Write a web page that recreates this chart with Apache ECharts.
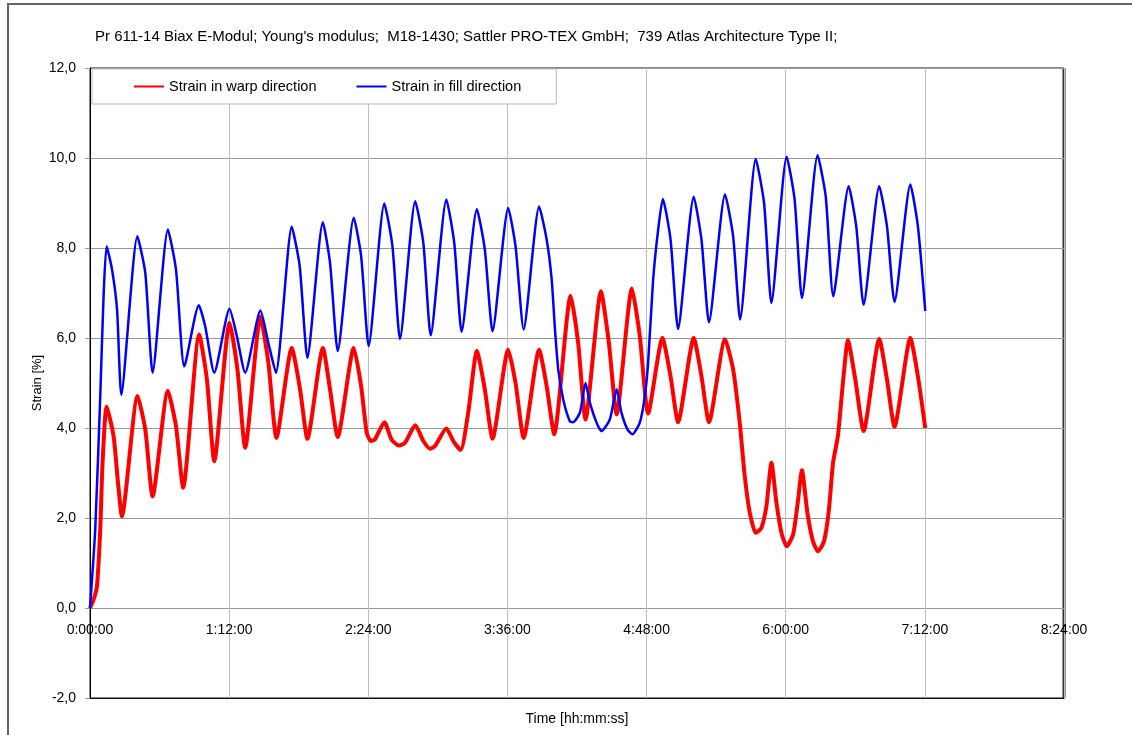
<!DOCTYPE html>
<html>
<head>
<meta charset="utf-8">
<script src="https://cdn.jsdelivr.net/npm/echarts@6/dist/echarts.min.js"></script>
<style>
  html, body { margin: 0; padding: 0; background: #fff; }
  #chart { width: 1132px; height: 735px; }
</style>
</head>
<body>
<div id="chart"></div>
<script>
// time in minutes, strain in %
var warpTime = [0, 1.9, 3.6, 5.3, 6.5, 8.6, 12.2, 14.5, 16.5, 24.6, 28.6, 32.4, 40.3, 44.5, 48.2, 56.5, 60.5, 64.3,
  72.2, 76.3, 80.3, 88.2, 92.3, 96.5, 104.4, 108.7, 112.5, 120.5, 124.2, 128.2, 136.5, 140.3, 143.2, 145.4, 147.5,
  152.3, 156.1, 159.9, 163.0, 168.3, 172.5, 175.9, 178.5, 184.4, 188.0, 191.8, 195.7, 200.2, 204.3, 208.3, 216.4,
  220.2, 224.4, 232.4, 236.3, 240.2, 248.7, 252.6, 256.4, 264.4, 268.5, 272.5, 280.4, 284.5, 288.8, 296.2, 300.4,
  304.3, 312.4, 316.4, 320.3, 328.6, 332.8, 336.2, 338.8, 341.4, 344.5, 347.4, 350.0, 352.6, 355.2, 357.8, 360.5,
  363.8, 366.0, 368.4, 371.2, 374.1, 376.7, 379.8, 382.2, 384.5, 387.0, 389.6, 392.2, 396.0, 400.3, 408.4, 412.4,
  416.3, 424.5, 428.4, 432.2];
var warpStrain = [0, 0.19, 0.48, 1.74, 3.23, 4.48, 3.82, 2.78, 2.04, 4.71, 3.97, 2.48, 4.83, 4.04, 2.67, 6.08, 5.08, 3.26,
  6.34, 5.3, 3.56, 6.48, 5.45, 3.78, 5.78, 4.86, 3.76, 5.78, 4.86, 3.8, 5.78, 4.93, 3.89, 3.71, 3.75,
  4.13, 3.74, 3.61, 3.67, 4.06, 3.71, 3.54, 3.6, 3.99, 3.71, 3.51, 4.34, 5.71, 4.86, 3.76, 5.74,
  5.0, 3.78, 5.74, 4.93, 3.86, 6.94, 5.89, 4.19, 7.04, 5.89, 4.3, 7.1, 6.04, 4.32, 6.0, 5.15,
  4.13, 6.0, 5.15, 4.13, 5.97, 5.3, 4.12, 2.93, 2.12, 1.67, 1.78, 2.26, 3.23, 2.34, 1.67, 1.37,
  1.63, 2.26, 3.06, 2.12, 1.48, 1.26, 1.48, 2.12, 3.23, 3.82, 5.0, 5.95, 5.08, 3.93, 5.98, 5.08,
  4.03, 6.0, 5.15, 4.0];

var fillTime = [0, 2.7, 5.3, 7.0, 8.6, 11.4, 14.0, 16.2, 24.5, 28.6, 32.4, 40.3, 44.5, 48.8, 56.3, 59.6, 64.3,
  72.2, 76.0, 80.3, 88.2, 92.3, 96.2, 104.4, 108.5, 112.5, 120.5, 124.2, 128.2, 136.5, 140.3, 144.2, 152.3, 156.5,
  160.4, 168.3, 172.5, 176.3, 184.4, 188.5, 192.3, 200.2, 204.3, 208.3, 216.4, 220.2, 224.4, 232.4, 236.3, 238.9,
  240.6, 242.3, 244.9, 248.3, 250.0, 253.5, 256.4, 258.7, 262.1, 264.7, 269.0, 272.5, 275.0, 278.1, 280.7, 284.5,
  287.1, 288.8, 291.4, 294.0, 296.4, 300.4, 304.3, 312.4, 316.4, 320.3, 328.6, 332.8, 336.4, 344.5, 348.8, 352.6,
  360.5, 364.6, 368.4, 376.5, 380.7, 384.6, 392.6, 396.5, 400.3, 408.4, 412.4, 416.3, 424.5, 428.4, 432.2];
var fillStrain = [0, 1.74, 4.7, 6.9, 8.04, 7.52, 6.63, 4.74, 8.26, 7.45, 5.23, 8.41, 7.52, 5.37, 6.73, 6.26, 5.23,
  6.65, 6.04, 5.23, 6.61, 5.89, 5.23, 8.47, 7.6, 5.56, 8.57, 7.67, 5.71, 8.67, 7.82, 5.82, 8.99, 8.04,
  5.98, 9.04, 8.11, 6.06, 9.08, 8.11, 6.14, 8.86, 7.97, 6.15, 8.89, 8.04, 6.19, 8.92, 8.19, 7.3,
  6.19, 5.3, 4.63, 4.15, 4.13, 4.34, 5.0, 4.56, 4.12, 3.93, 4.19, 4.86, 4.34, 3.97, 3.86, 4.12,
  4.71, 5.45, 7.3, 8.41, 9.09, 8.19, 6.2, 9.14, 8.19, 6.35, 9.19, 8.26, 6.41, 9.98, 9.0, 6.78,
  10.03, 9.08, 6.89, 10.06, 9.15, 6.93, 9.37, 8.48, 6.74, 9.37, 8.48, 6.8, 9.41, 8.48, 6.6];

var seriesNames = ['Strain in warp direction', 'Strain in fill direction'];
var titleText = "Pr 611-14 Biax E-Modul; Young's modulus;  M18-1430; Sattler PRO-TEX GmbH;  739 Atlas Architecture Type II;";

function pairs(xs, ys) {
  return xs.map(function (x, i) { return [x, ys[i]]; });
}
function hms(min) {
  var h = Math.floor(min / 60);
  var m = Math.round(min - h * 60);
  return h + ':' + (m < 10 ? '0' : '') + m + ':00';
}

var font = '"Liberation Sans", Arial, sans-serif';
var myChart = echarts.init(document.getElementById('chart'));
var option = {
  backgroundColor: '#fff',
  animation: false,
  textStyle: { fontFamily: font },
  title: {
    text: titleText,
    left: 90, top: 24,
    textStyle: { fontSize: 15, fontWeight: 'normal', color: '#000', fontFamily: font }
  },
  graphic: [{
    type: 'rect',
    shape: { x: 8, y: 4, width: 2000, height: 2000 },
    style: { fill: 'none', stroke: '#666', lineWidth: 2 },
    silent: true
  }, {
    type: 'line',
    shape: { x1: 1064, y1: 68, x2: 1064, y2: 698 },
    style: { stroke: '#333', lineWidth: 3 },
    silent: true
  }],
  legend: {
    left: 92, top: 69,
    orient: 'horizontal',
    padding: [10, 35, 10, 41],
    itemGap: 39,
    itemWidth: 30, itemHeight: 12,
    itemStyle: { opacity: 0 },
    borderColor: '#bbb', borderWidth: 1,
    backgroundColor: '#fff',
    textStyle: { fontSize: 14.5, color: '#000', fontFamily: font },
    data: seriesNames
  },
  grid: {
    left: 90, top: 68, right: 68, bottom: 37,
    show: true, borderColor: '#111', borderWidth: 1,
    containLabel: false,
    outerBoundsMode: 'none'
  },
  xAxis: {
    type: 'value',
    min: 0, max: 504, interval: 72,
    name: 'Time [hh:mm:ss]',
    nameLocation: 'middle',
    nameGap: 14,
    nameTextStyle: { fontSize: 14, color: '#000' },
    axisLine: { onZero: false, lineStyle: { color: '#111', width: 1 } },
    axisTick: { show: false },
    // labels sit under the 0,0 line as in the original
    axisLabel: { formatter: hms, fontSize: 14, color: '#000', margin: -75 },
    splitLine: { show: true, lineStyle: { color: '#c0c0c0', width: 1 } }
  },
  yAxis: {
    type: 'value',
    min: -2, max: 12, interval: 2,
    name: 'Strain [%]',
    nameLocation: 'middle',
    nameGap: 46,
    nameMoveOverlap: false,
    nameTextStyle: { fontSize: 13, color: '#000' },
    axisLine: { show: true, onZero: false, lineStyle: { color: '#000', width: 1 } },
    axisTick: { show: true, length: 5, lineStyle: { color: '#999' } },
    axisLabel: {
      formatter: function (v) { return v.toFixed(1).replace('.', ','); },
      fontSize: 14, color: '#000', margin: 14
    },
    splitLine: { show: true, lineStyle: { color: '#999', width: 1 } }
  },
  series: [{
    name: seriesNames[0],
    type: 'line',
    data: pairs(warpTime, warpStrain),
    symbol: 'none',
    smooth: 0.2,
    lineStyle: { color: '#ff0000', width: 4 },
    itemStyle: { color: '#ff0000' }
  }, {
    name: seriesNames[1],
    type: 'line',
    data: pairs(fillTime, fillStrain),
    symbol: 'none',
    smooth: 0.2,
    lineStyle: { color: '#0000ff', width: 2.5 },
    itemStyle: { color: '#0000ff' }
  }]
};
myChart.setOption(option);
window.addEventListener('resize', function () {
  myChart.resize();
});
</script>
</body>
</html>
